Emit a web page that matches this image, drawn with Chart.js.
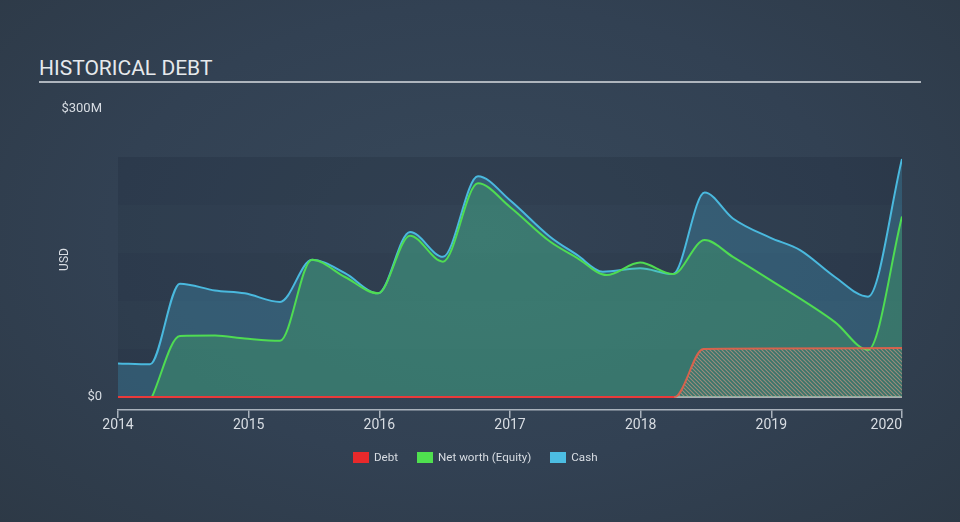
<!DOCTYPE html>
<html>
<head>
<meta charset="utf-8">
<script src="https://cdn.jsdelivr.net/npm/chart.js@4"></script>
<style>
  html, body { margin:0; padding:0; }
  body { width:960px; height:522px; overflow:hidden; position:relative;
    background: radial-gradient(ellipse 70% 80% at 50% 45%, #37485a 0%, #324153 55%, #2d3946 100%);
    font-family: Roboto, "Noto Sans", sans-serif; }
  #title { position:absolute; left:39px; top:55px; width:882px; height:26px;
    color:#e6e9ec; font-size:21px; line-height:26px; border-bottom:2px solid #aeb5bd; }
  #wrap { position:absolute; left:0; top:0; width:960px; height:522px; }
  #legend { position:absolute; left:353px; top:450px; display:flex; align-items:center;
    color:#d8dde3; font-size:11.6px; line-height:14px; }
  .item { display:flex; align-items:center; margin-right:19px; }
  .box { width:16px; height:11px; margin-right:5px; }
</style>
</head>
<body>
<div id="title">HISTORICAL DEBT</div>
<div id="wrap"><canvas id="c" width="960" height="522"></canvas></div>
<div id="legend">
  <div class="item"><div class="box" style="background:#e8292b"></div>Debt</div>
  <div class="item"><div class="box" style="background:#4fe04f"></div>Net worth (Equity)</div>
  <div class="item"><div class="box" style="background:#4cbde2"></div>Cash</div>
</div>
<script>
// ---- data (values in $M, dates in decimal years) ----
const cashDates   = [2014.00, 2014.245, 2014.474, 2014.742, 2014.97, 2015.24, 2015.485, 2015.737, 2015.99, 2016.235, 2016.487, 2016.755, 2017.0, 2017.306, 2017.513, 2017.71, 2017.995, 2018.247, 2018.49, 2018.706, 2018.99, 2019.22, 2019.487, 2019.74, 2020.0];
const cashValues  = [35, 34, 118, 111, 108, 99, 143, 129, 108, 172, 146, 230, 205, 167, 148, 130.5, 134, 128, 213, 186, 166, 153, 125, 104.5, 248];
const equityDates  = [2014.26, 2014.474, 2014.742, 2014.97, 2015.24, 2015.485, 2015.737, 2015.99, 2016.235, 2016.487, 2016.755, 2017.0, 2017.306, 2017.513, 2017.74, 2017.995, 2018.247, 2018.49, 2018.706, 2018.99, 2019.487, 2019.74, 2020.0];
const equityValues = [0, 63.5, 64, 61, 58.6, 143, 125, 108, 168, 141, 222.6, 198, 162, 145, 127, 140, 128, 163.5, 146, 122, 78, 49, 188];
const debtDates  = [2014.0, 2018.26, 2018.48, 2019.0, 2020.0];
const debtValues = [0, 0, 50, 50.5, 51];
const yearTicks  = [2014, 2015, 2016, 2017, 2018, 2019, 2020];
const yTickValues = [0, 300];
const yTickLabels = ['$0', '$300M'];

const toPts = (xs, ys) => xs.map((x, i) => ({x, y: ys[i]}));

// hatch pattern for debt
function makeHatch() {
  const p = document.createElement('canvas');
  p.width = 4; p.height = 4;
  const g = p.getContext('2d');
  g.strokeStyle = 'rgba(200,150,130,0.7)';
  g.lineWidth = 1.1;
  g.beginPath();
  g.moveTo(-1, -1); g.lineTo(5, 5);
  g.moveTo(-1, 3); g.lineTo(1, 5);
  g.moveTo(3, -1); g.lineTo(5, 1);
  g.stroke();
  return document.getElementById('c').getContext('2d').createPattern(p, 'repeat');
}

const bandsPlugin = {
  id: 'bands',
  beforeDatasetsDraw(chart) {
    const {ctx, chartArea, scales: {y}} = chart;
    ctx.save();
    for (let i = 0; i < 5; i++) {
      const top = y.getPixelForValue(50 * (i + 1));
      const bot = y.getPixelForValue(50 * i);
      ctx.fillStyle = i % 2 === 0 ? 'rgba(10,18,28,0.13)' : 'rgba(10,18,28,0.09)';
      ctx.fillRect(chartArea.left, top, chartArea.right - chartArea.left, bot - top);
    }
    const z = y.getPixelForValue(0);
    ctx.strokeStyle = 'rgba(225,225,225,0.9)';
    ctx.lineWidth = 1.5;
    ctx.beginPath(); ctx.moveTo(chartArea.left, z); ctx.lineTo(chartArea.right, z); ctx.stroke();
    ctx.restore();
  },
  afterDraw(chart) {
    const {ctx, chartArea, scales: {x}} = chart;
    ctx.save();
    ctx.font = '14px Roboto';
    ctx.fillStyle = '#d8dde3';
    ctx.textBaseline = 'middle';
    yearTicks.forEach(v => {
      const label = String(v);
      const w = ctx.measureText(label).width;
      let px = x.getPixelForValue(v) - w / 2;
      if (px + w > chartArea.right) px = chartArea.right - w;
      ctx.textAlign = 'left';
      ctx.fillText(label, px, chartArea.bottom + 15);
    });
    ctx.restore();
  }
};

new Chart(document.getElementById('c'), {
  type: 'line',
  data: {
    datasets: [
      { label: 'Debt', data: toPts(debtDates, debtValues),
        borderColor: '#e8353a', borderWidth: 2,
        segment: { borderColor: c => (c.p0.parsed.y === 0 && c.p1.parsed.y === 0) ? '#ea3a3a' : 'rgba(222,98,76,0.95)' },
        backgroundColor: makeHatch(), fill: 'origin', pointRadius: 0, cubicInterpolationMode: 'monotone' },
      { label: 'Net worth (Equity)', data: toPts(equityDates, equityValues),
        borderColor: '#4fdc52', borderWidth: 2, backgroundColor: 'rgba(76,220,90,0.22)',
        fill: 'origin', pointRadius: 0, cubicInterpolationMode: 'monotone' },
      { label: 'Cash', data: toPts(cashDates, cashValues),
        borderColor: '#4ab9de', borderWidth: 2, backgroundColor: 'rgba(74,184,222,0.25)',
        fill: 'origin', pointRadius: 0, cubicInterpolationMode: 'monotone' }
    ]
  },
  options: {
    responsive: false, animation: false,
    layout: { padding: { left: 0, right: 58, top: 109, bottom: 0 } },
    plugins: { legend: { display: false }, tooltip: { enabled: false } },
    scales: {
      x: {
        type: 'linear', min: 2014, max: 2020,
        afterBuildTicks: s => { s.ticks = yearTicks.map(v => ({value: v})); },
        ticks: { display: false },
        grid: { display: true, drawOnChartArea: false, drawTicks: true, tickLength: 8,
                color: '#a9b2bc', lineWidth: 1.5 },
        border: { display: true, color: '#a9b2bc', width: 1.5 },
        afterFit: s => { s.height = 112; }
      },
      y: {
        min: -13.54, max: 300,
        afterBuildTicks: s => { s.ticks = yTickValues.map(v => ({value: v})); },
        ticks: { color: '#d8dde3', font: { family: 'Roboto', size: 13 }, padding: 16,
                 callback: v => yTickLabels[yTickValues.indexOf(v)] },
        grid: { display: false, drawTicks: false },
        border: { display: false },
        title: { display: true, text: 'USD', color: '#d8dde3', font: { family: 'Roboto', size: 12 },
                 padding: { top: 58, bottom: 0 } },
        afterFit: s => { s.width = 118; }
      }
    }
  },
  plugins: [bandsPlugin]
});
</script>
</body>
</html>
